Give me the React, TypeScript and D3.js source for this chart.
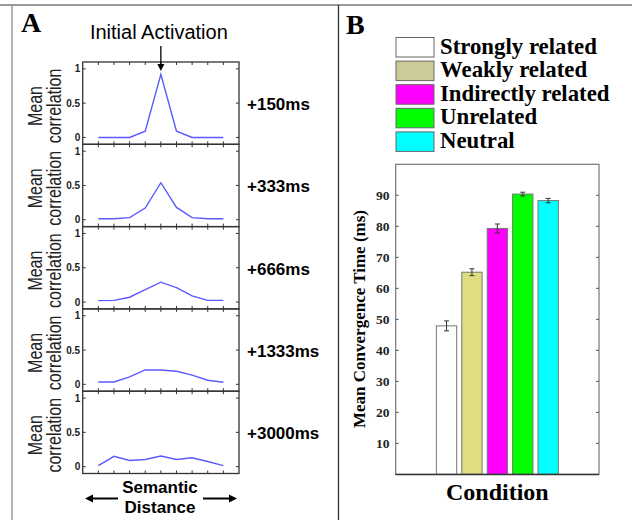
import React, {useEffect, useRef} from 'react';
import * as d3 from 'd3';

// panel A: mean correlation over semantic distance, one row per delay
const semanticDistance = [1, 2, 3, 4, 5, 6, 7, 8, 9];
const delays = ['+150ms', '+333ms', '+666ms', '+1333ms', '+3000ms'];
const corr150 = [0, 0, 0, 0.09, 0.92, 0.09, 0, 0, 0];
const corr333 = [0.015, 0.015, 0.03, 0.17, 0.54, 0.18, 0.03, 0.015, 0.015];
const corr666 = [0.02, 0.025, 0.07, 0.18, 0.29, 0.21, 0.09, 0.025, 0.025];
const corr1333 = [0.035, 0.035, 0.11, 0.21, 0.21, 0.19, 0.135, 0.06, 0.03];
const corr3000 = [0.015, 0.15, 0.09, 0.105, 0.155, 0.105, 0.13, 0.075, 0.015];
const corrTicks = [0, 0.5, 1];

// panel B: convergence time by condition
const conditions = ['Strongly related', 'Weakly related', 'Indirectly related', 'Unrelated', 'Neutral'];
const barPositions = [2, 3, 4, 5, 6];
const convergence = [47.9, 65.2, 79.3, 90.4, 88.3];
const convergenceErr = [1.6, 1.1, 1.45, 0.6, 0.7];
const barColors = ['#ffffff', '#dede80', '#ff00ff', '#00ff00', '#00ffff'];
const legendColors = ['#ffffff', '#cbcb98', '#ff00ff', '#00ff00', '#00ffff'];
const timeTicks = [10, 20, 30, 40, 50, 60, 70, 80, 90];

const SANS = '"Liberation Sans", Arial, sans-serif';
const SERIF = '"Liberation Serif", "Times New Roman", serif';

const App = () => {
    const svgRef = useRef<SVGSVGElement>(null);
    const W = 632, H = 520;

    useEffect(() => {
        const svg = d3.select(svgRef.current);
        svg.selectAll('*').remove();

        svg.append('rect').attr('width', W).attr('height', H).attr('fill', '#fff');

        // frame
        svg.append('line').attr('x1', 0).attr('x2', W).attr('y1', 5).attr('y2', 5)
            .attr('stroke', '#999').attr('stroke-width', 2);
        svg.append('line').attr('x1', 12).attr('x2', 12).attr('y1', 5).attr('y2', H)
            .attr('stroke', '#999').attr('stroke-width', 1.5);
        svg.append('line').attr('x1', 338.5).attr('x2', 338.5).attr('y1', 5).attr('y2', H)
            .attr('stroke', '#333').attr('stroke-width', 1.3);

        // ---------- panel A ----------
        svg.append('text').attr('x', 21).attr('y', 32).text('A')
            .attr('font-family', SERIF).attr('font-weight', 'bold').attr('font-size', 28);

        const series = [corr150, corr333, corr666, corr1333, corr3000];
        const top0 = 62, rowH = 82.3;
        const x = d3.scaleLinear().domain([0, 10]).range([82.7, 239]);
        const y = d3.scaleLinear().domain([-0.1, 1.1]).range([rowH, 0]);
        const line = d3.line<number>()
            .x((d, i) => x(semanticDistance[i]))
            .y(d => y(d));

        series.forEach((vals, r) => {
            const g = svg.append('g').attr('transform', `translate(0,${top0 + r * rowH})`);
            g.append('rect').attr('x', x(0)).attr('y', 0)
                .attr('width', x(10) - x(0)).attr('height', rowH)
                .attr('fill', 'none').attr('stroke', '#333').attr('stroke-width', 1.3);
            semanticDistance.forEach(d => {
                g.append('line').attr('x1', x(d)).attr('x2', x(d)).attr('y1', 0).attr('y2', 3)
                    .attr('stroke', '#333');
                g.append('line').attr('x1', x(d)).attr('x2', x(d)).attr('y1', rowH).attr('y2', rowH - 3)
                    .attr('stroke', '#333');
            });
            corrTicks.forEach(t => {
                g.append('line').attr('x1', x(0)).attr('x2', x(0) + 3).attr('y1', y(t)).attr('y2', y(t))
                    .attr('stroke', '#333');
                g.append('line').attr('x1', x(10)).attr('x2', x(10) - 3).attr('y1', y(t)).attr('y2', y(t))
                    .attr('stroke', '#333');
                g.append('text').attr('x', x(0) - 2.5).attr('y', y(t) + 3.5).text(String(t))
                    .attr('text-anchor', 'end').attr('font-family', SANS)
                    .attr('font-weight', 'bold').attr('font-size', 10).attr('fill', '#222');
            });
            g.append('path').datum(vals).attr('d', line)
                .attr('fill', 'none').attr('stroke', '#5a5aff').attr('stroke-width', 1.4);

            // rotated two-line y label, stretched a bit across like the source scan
            const lab = g.append('text')
                .attr('transform', `translate(0,${44}) rotate(-90) scale(1,1.25)`)
                .attr('text-anchor', 'middle').attr('font-family', SANS)
                .attr('font-size', 16).attr('fill', '#222');
            lab.append('tspan').attr('x', 0).attr('y', 33.6).text('Mean');
            lab.append('tspan').attr('x', 0).attr('y', 49).text('correlation');

            g.append('text').attr('x', 247).attr('y', 48).text(delays[r])
                .attr('font-family', SANS).attr('font-weight', 'bold').attr('font-size', 17);
        });

        // initial activation annotation
        const peakX = x(semanticDistance[4]);
        svg.append('text').attr('x', peakX - 2).attr('y', 39).text('Initial Activation')
            .attr('text-anchor', 'middle').attr('font-family', SANS).attr('font-size', 20);
        svg.append('line').attr('x1', peakX).attr('x2', peakX).attr('y1', 46).attr('y2', 65)
            .attr('stroke', '#000').attr('stroke-width', 1.3);
        svg.append('path')
            .attr('d', `M${peakX - 3.5},64 L${peakX + 3.5},64 L${peakX},71 Z`)
            .attr('fill', '#000');

        // semantic distance label + arrows
        svg.append('text').attr('x', 160).attr('y', 493).text('Semantic')
            .attr('text-anchor', 'middle').attr('font-family', SANS)
            .attr('font-weight', 'bold').attr('font-size', 17);
        svg.append('text').attr('x', 160).attr('y', 513).text('Distance')
            .attr('text-anchor', 'middle').attr('font-family', SANS)
            .attr('font-weight', 'bold').attr('font-size', 17);
        const arrowY = 498.5;
        svg.append('line').attr('x1', 90).attr('x2', 118).attr('y1', arrowY).attr('y2', arrowY)
            .attr('stroke', '#000').attr('stroke-width', 2);
        svg.append('path').attr('d', `M85,${arrowY} L93,${arrowY - 4} L93,${arrowY + 4} Z`).attr('fill', '#000');
        svg.append('line').attr('x1', 203).attr('x2', 232).attr('y1', arrowY).attr('y2', arrowY)
            .attr('stroke', '#000').attr('stroke-width', 2);
        svg.append('path').attr('d', `M237,${arrowY} L229,${arrowY - 4} L229,${arrowY + 4} Z`).attr('fill', '#000');

        // ---------- panel B ----------
        svg.append('text').attr('x', 346).attr('y', 34).text('B')
            .attr('font-family', SERIF).attr('font-weight', 'bold').attr('font-size', 28);

        // legend
        conditions.forEach((c, i) => {
            const ly = 37.5 + i * 23.6;
            svg.append('rect').attr('x', 396).attr('y', ly).attr('width', 38).attr('height', 19.5)
                .attr('fill', legendColors[i]).attr('stroke', '#666').attr('stroke-width', 1);
            svg.append('text').attr('x', 440).attr('y', ly + 16).text(c)
                .attr('font-family', SERIF).attr('font-weight', 'bold').attr('font-size', 22.8);
        });

        const bx = d3.scaleLinear().domain([0, 8]).range([395.7, 599]);
        const by = d3.scaleLinear().domain([0, 100]).range([474.4, 164.3]);
        const bw = (bx(1) - bx(0)) * 0.8;

        const gb = svg.append('g');
        gb.selectAll('rect.bar')
            .data(convergence)
            .join('rect')
            .attr('class', 'bar')
            .attr('x', (d, i) => bx(barPositions[i]) - bw / 2)
            .attr('y', d => by(d))
            .attr('width', bw)
            .attr('height', d => by(0) - by(d))
            .attr('fill', (d, i) => barColors[i])
            .attr('stroke', '#777').attr('stroke-width', 1);

        convergence.forEach((v, i) => {
            const cx = bx(barPositions[i]);
            const e = convergenceErr[i];
            gb.append('line').attr('x1', cx).attr('x2', cx).attr('y1', by(v + e)).attr('y2', by(v - e))
                .attr('stroke', '#333').attr('stroke-width', 1);
            [v + e, v - e].forEach(t => {
                gb.append('line').attr('x1', cx - 2.5).attr('x2', cx + 2.5).attr('y1', by(t)).attr('y2', by(t))
                    .attr('stroke', '#333').attr('stroke-width', 1);
            });
        });

        // box
        gb.append('rect').attr('x', bx(0)).attr('y', by(100))
            .attr('width', bx(8) - bx(0)).attr('height', by(0) - by(100))
            .attr('fill', 'none').attr('stroke', '#777').attr('stroke-width', 1.2);
        gb.append('line').attr('x1', bx(0)).attr('x2', bx(8)).attr('y1', by(0)).attr('y2', by(0))
            .attr('stroke', '#333').attr('stroke-width', 1.5);

        timeTicks.forEach(t => {
            gb.append('line').attr('x1', bx(0)).attr('x2', bx(0) + 3).attr('y1', by(t)).attr('y2', by(t))
                .attr('stroke', '#555');
            gb.append('line').attr('x1', bx(8)).attr('x2', bx(8) - 3).attr('y1', by(t)).attr('y2', by(t))
                .attr('stroke', '#555');
            gb.append('text').attr('x', 389.5).attr('y', by(t) + 4.5).text(String(t))
                .attr('text-anchor', 'end').attr('font-family', SERIF)
                .attr('font-weight', 'bold').attr('font-size', 13.5).attr('fill', '#222');
        });

        svg.append('text')
            .attr('transform', `translate(365,319) rotate(-90)`)
            .attr('text-anchor', 'middle').text('Mean Convergence Time (ms)')
            .attr('font-family', SERIF).attr('font-weight', 'bold').attr('font-size', 17);

        svg.append('text').attr('x', (bx(0) + bx(8)) / 2).attr('y', 500).text('Condition')
            .attr('text-anchor', 'middle').attr('font-family', SERIF)
            .attr('font-weight', 'bold').attr('font-size', 24);
    }, []);

    return (
        <svg ref={svgRef} width={W} height={H}
             style={{position: 'absolute', left: 0, top: 0, display: 'block'}}/>
    );
};

export default App;
